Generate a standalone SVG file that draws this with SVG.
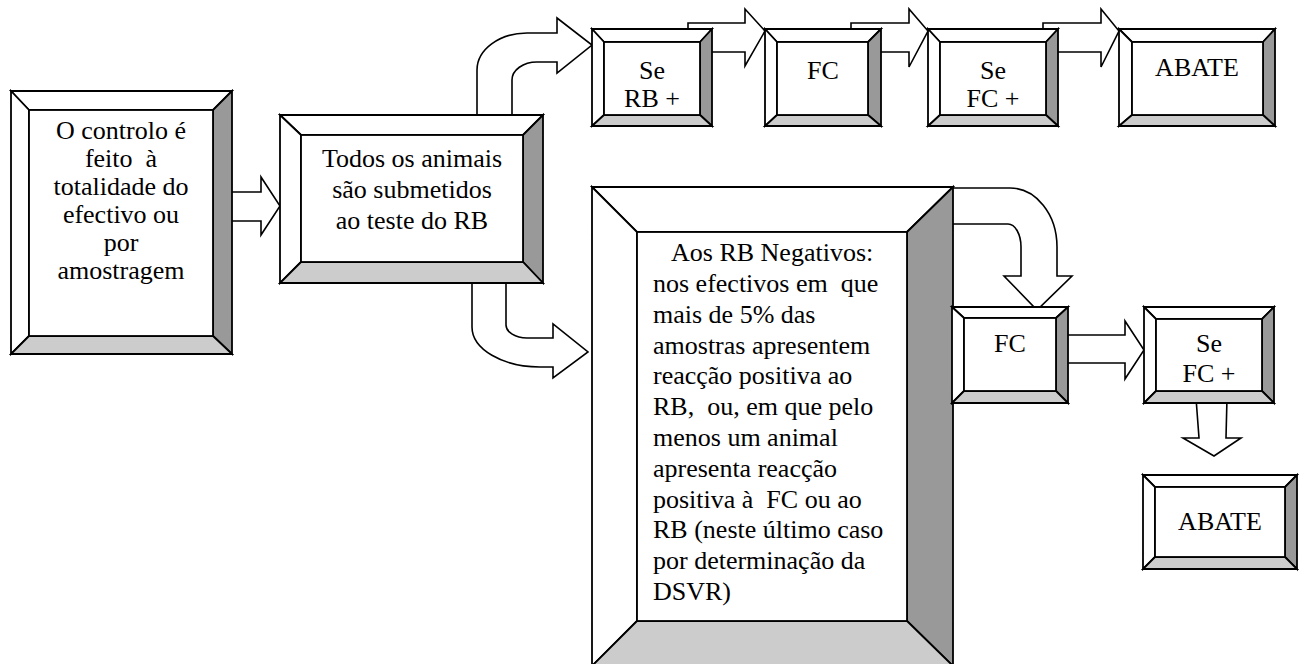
<svg xmlns="http://www.w3.org/2000/svg" width="1301" height="664" viewBox="0 0 1301 664">
<style>
.ar{fill:#fff;stroke:#000;stroke-width:1.6;stroke-linejoin:miter}
.w{fill:#fff;stroke:#000;stroke-width:1.8}
.r{fill:#999;stroke:#000;stroke-width:1.8}
.b{fill:#ccc;stroke:#000;stroke-width:1.8}
.in{fill:#fff;stroke:#000;stroke-width:1.8}
.c{text-anchor:middle}
text{font-family:"Liberation Serif","Times New Roman",serif;font-size:26px;fill:#000}
</style>
<rect width="1301" height="664" fill="#fff"/>
<g id="connectors">
<path class="ar" d="M225,192 H261 V177 L280,206 L261,235 V221 H225 Z"/>
<path class="ar" d="M477,120 V70 A50,37 0 0 1 527,33 H557 V18 L592,45 L557,73 V62 H537 A25,18 0 0 0 512,80 V120 Z"/>
<path class="ar" d="M472,278 V327 A68,40 0 0 0 540,367 H553 V378 L588,352 L553,324 V338 H527 A21,13 0 0 1 506,325 V278 Z"/>
<path class="ar" d="M948,188 H1010 A47,59 0 0 1 1057,247 V276 H1072 L1037,310 L1004,276 H1021 V247 A13,23 0 0 0 1008,224 H948 Z"/>
<path class="ar" d="M1060,335 H1125 V321 L1144,350 L1125,379 V363 H1060 Z"/>
<path class="ar" d="M1196,398 L1199,438 H1183 L1214,456 L1241,438 H1226 L1227,398 Z"/>
<path class="ar" d="M688,40 V23 H745 V9 L765,31 L745,66 V52 H688 Z"/>
<path class="ar" d="M851,40 V23 H909 V9 L928,31 L909,67 V52 H851 Z"/>
<path class="ar" d="M1043,40 V23 H1101 V9 L1119,31 L1101,67 V52 H1043 Z"/>
</g>
<g id="n1">
<polygon class="w" points="11,91 232,91 213,110 29,110"/>
<polygon class="w" points="11,91 29,110 29,336 11,354"/>
<polygon class="r" points="232,91 232,354 213,336 213,110"/>
<polygon class="b" points="11,354 232,354 213,336 29,336"/>
<rect class="in" x="29" y="110" width="184" height="226"/>
<text class="c" x="121" y="139">O controlo é</text>
<text class="c" x="121" y="167" xml:space="preserve">feito  à</text>
<text class="c" x="121" y="195">totalidade do</text>
<text class="c" x="121" y="223">efectivo ou</text>
<text class="c" x="121" y="251">por</text>
<text class="c" x="121" y="279">amostragem</text>
</g>
<g id="n2">
<polygon class="w" points="280,115 543,115 523,135 301,135"/>
<polygon class="w" points="280,115 301,135 301,262 280,283"/>
<polygon class="r" points="543,115 543,283 523,262 523,135"/>
<polygon class="b" points="280,283 543,283 523,262 301,262"/>
<rect class="in" x="301" y="135" width="222" height="127"/>
<text class="c" x="412" y="167">Todos os animais</text>
<text class="c" x="412" y="198">são submetidos</text>
<text class="c" x="412" y="229">ao teste do RB</text>
</g>
<g id="n3">
<polygon class="w" points="592,29 712,29 700,42 604,42"/>
<polygon class="w" points="592,29 604,42 604,115 592,126"/>
<polygon class="r" points="712,29 712,126 700,115 700,42"/>
<polygon class="b" points="592,126 712,126 700,115 604,115"/>
<rect class="in" x="604" y="42" width="96" height="73"/>
<text class="c" x="652" y="79">Se</text>
<text class="c" x="652" y="107">RB +</text>
</g>
<g id="n4">
<polygon class="w" points="765,29 881,29 868,42 777,42"/>
<polygon class="w" points="765,29 777,42 777,115 765,126"/>
<polygon class="r" points="881,29 881,126 868,115 868,42"/>
<polygon class="b" points="765,126 881,126 868,115 777,115"/>
<rect class="in" x="777" y="42" width="91" height="73"/>
<text class="c" x="823" y="79">FC</text>
</g>
<g id="n5">
<polygon class="w" points="928,29 1058,29 1046,42 940,42"/>
<polygon class="w" points="928,29 940,42 940,115 928,126"/>
<polygon class="r" points="1058,29 1058,126 1046,115 1046,42"/>
<polygon class="b" points="928,126 1058,126 1046,115 940,115"/>
<rect class="in" x="940" y="42" width="106" height="73"/>
<text class="c" x="993" y="79">Se</text>
<text class="c" x="993" y="107">FC +</text>
</g>
<g id="n6">
<polygon class="w" points="1119,29 1275,29 1263,42 1132,42"/>
<polygon class="w" points="1119,29 1132,42 1132,115 1119,126"/>
<polygon class="r" points="1275,29 1275,126 1263,115 1263,42"/>
<polygon class="b" points="1119,126 1275,126 1263,115 1132,115"/>
<rect class="in" x="1132" y="42" width="131" height="73"/>
<text class="c" x="1197" y="76">ABATE</text>
</g>
<g id="n7">
<polygon class="w" points="592,187 953,187 907,232 637,232"/>
<polygon class="w" points="592,187 637,232 637,621 592,666"/>
<polygon class="r" points="953,187 953,666 907,621 907,232"/>
<polygon class="b" points="592,666 953,666 907,621 637,621"/>
<rect class="in" x="637" y="232" width="270" height="389"/>
<text x="671" y="261">Aos RB Negativos:</text>
<text x="653" y="292" xml:space="preserve">nos efectivos em  que</text>
<text x="653" y="323">mais de 5% das</text>
<text x="653" y="354">amostras apresentem</text>
<text x="653" y="384">reacção positiva ao</text>
<text x="653" y="415" xml:space="preserve">RB,  ou, em que pelo</text>
<text x="653" y="446">menos um animal</text>
<text x="653" y="477">apresenta reacção</text>
<text x="653" y="508" xml:space="preserve">positiva à  FC ou ao</text>
<text x="653" y="538">RB (neste último caso</text>
<text x="653" y="569">por determinação da</text>
<text x="653" y="600">DSVR)</text>
</g>
<g id="n8">
<polygon class="w" points="952,307 1068,307 1056,318 964,318"/>
<polygon class="w" points="952,307 964,318 964,391 952,403"/>
<polygon class="r" points="1068,307 1068,403 1056,391 1056,318"/>
<polygon class="b" points="952,403 1068,403 1056,391 964,391"/>
<rect class="in" x="964" y="318" width="92" height="73"/>
<text class="c" x="1010" y="352">FC</text>
</g>
<g id="n9">
<polygon class="w" points="1144,307 1274,307 1262,319 1156,319"/>
<polygon class="w" points="1144,307 1156,319 1156,391 1144,403"/>
<polygon class="r" points="1274,307 1274,403 1262,391 1262,319"/>
<polygon class="b" points="1144,403 1274,403 1262,391 1156,391"/>
<rect class="in" x="1156" y="319" width="106" height="72"/>
<text class="c" x="1209" y="352">Se</text>
<text class="c" x="1209" y="382">FC +</text>
</g>
<g id="n10">
<polygon class="w" points="1143,475 1297,475 1285,487 1155,487"/>
<polygon class="w" points="1143,475 1155,487 1155,557 1143,569"/>
<polygon class="r" points="1297,475 1297,569 1285,557 1285,487"/>
<polygon class="b" points="1143,569 1297,569 1285,557 1155,557"/>
<rect class="in" x="1155" y="487" width="130" height="70"/>
<text class="c" x="1220" y="530">ABATE</text>
</g>
</svg>
